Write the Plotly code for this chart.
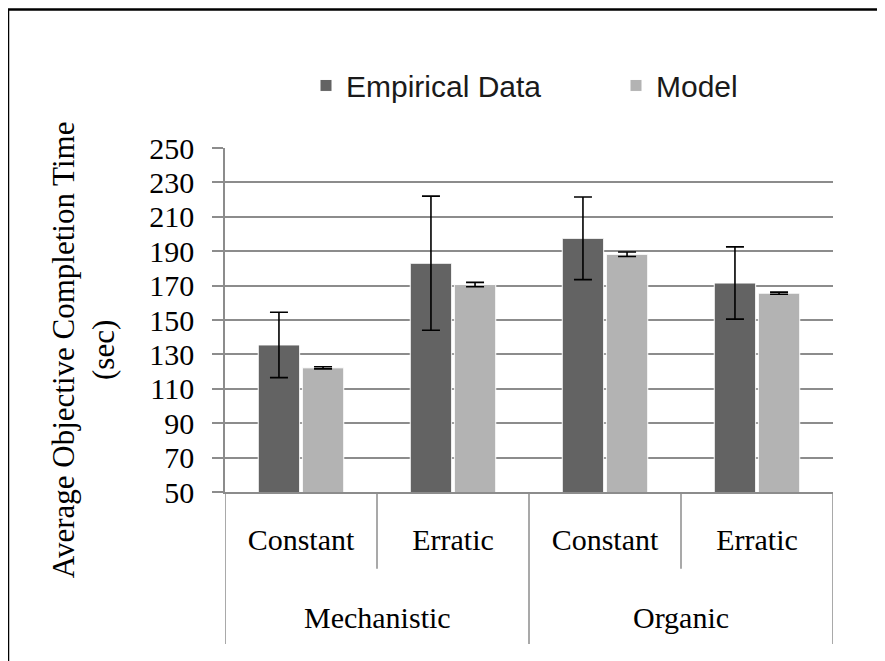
import plotly.graph_objects as go

groups = ["Mechanistic", "Mechanistic", "Organic", "Organic"]
conditions = ["Constant", "Erratic", "Constant", "Erratic"]
empirical = [135.5, 183.0, 197.5, 171.5]
empirical_err = [19.0, 39.0, 24.0, 21.0]
model = [122.2, 170.6, 188.2, 165.6]
model_err = [0.6, 1.3, 1.3, 0.6]
y_ticks = [50, 70, 90, 110, 130, 150, 170, 190, 210, 230, 250]

xpos = list(range(len(conditions)))
GRID = "#8c8c8c"
SERIF = "Liberation Serif, Times New Roman, serif"
SANS = "Liberation Sans, Arial, sans-serif"

OFF = 8  # page body margin
W, H = 885, 661
L = 225 - OFF
T = 148 - OFF
R = W - (833 - OFF)
B = H - (491.7 - OFF)
pw, ph = W - L - R, H - T - B

def sx(px):
    return (px - OFF - L) / pw

def sy(py):
    return (H - B - (py - OFF)) / ph

fig = go.Figure()
fig.add_trace(go.Bar(
    x=xpos, y=empirical, name="Empirical Data", legend="legend",
    marker=dict(color="#636363", line=dict(color="white", width=1)),
    error_y=dict(type="data", array=empirical_err, color="black", thickness=1.6, width=9),
))
fig.add_trace(go.Bar(
    x=xpos, y=model, name="Model", legend="legend2",
    marker=dict(color="#b3b3b3", line=dict(color="white", width=1)),
    error_y=dict(type="data", array=model_err, color="black", thickness=1.6, width=9),
))

shapes = []
for i in range(len(conditions) - 1):
    if groups[i] == groups[i + 1]:
        shapes.append(dict(type="line", xref="x", yref="paper", x0=i + 0.5, x1=i + 0.5,
                           y0=0, y1=sy(568.3), line=dict(color=GRID, width=1.5)))
bounds = [-0.5] + [i + 0.5 for i in range(len(groups) - 1) if groups[i] != groups[i + 1]] + [len(groups) - 0.5]
for b in bounds:
    shapes.append(dict(type="line", xref="x", yref="paper", x0=b, x1=b,
                       y0=0, y1=sy(643.5), line=dict(color=GRID, width=1.5)))
shapes.append(dict(type="rect", xref="paper", yref="paper",
                   x0=sx(8), x1=sx(920), y0=sy(700), y1=sy(9.5),
                   line=dict(color="black", width=2.5)))

annotations = []
seen = []
for g in groups:
    if g not in seen:
        seen.append(g)
for g in seen:
    idx = [i for i, gg in enumerate(groups) if gg == g]
    annotations.append(dict(text=g, x=sum(idx) / len(idx), xref="x", y=sy(617),
                            yref="paper", showarrow=False, xanchor="center", yanchor="middle",
                            font=dict(family=SERIF, size=30, color="black")))
annotations.append(dict(text="Average Objective Completion Time<br>(sec)", textangle=-90,
                        x=sx(83), xref="paper", y=sy(350), yref="paper",
                        showarrow=False, xanchor="center", yanchor="middle",
                        font=dict(family=SERIF, size=31, color="black")))

legend_common = dict(orientation="h", xanchor="left", yanchor="middle",
                     font=dict(family=SANS, size=30, color="#1a1a1a"),
                     bgcolor="rgba(0,0,0,0)", itemclick=False)

fig.update_layout(
    width=W, height=H,
    margin=dict(l=L, r=R, t=T, b=B, pad=0),
    paper_bgcolor="white", plot_bgcolor="white",
    barmode="group", bargap=0.42, bargroupgap=0.06,
    showlegend=True,
    legend=dict(x=sx(306), y=sy(85.5), **legend_common),
    legend2=dict(x=sx(616), y=sy(85.5), **legend_common),
    shapes=shapes,
    annotations=annotations,
)
fig.update_xaxes(
    range=[-0.5, len(conditions) - 0.5], tickvals=xpos, ticktext=conditions,
    showgrid=False, zeroline=False, showline=True, linecolor=GRID, linewidth=1.5,
    ticks="outside", ticklen=20, tickcolor="rgba(0,0,0,0)",
    tickfont=dict(family=SERIF, size=30, color="black"),
)
fig.update_yaxes(
    range=[50, 250], tickvals=y_ticks, showgrid=True, gridcolor=GRID, gridwidth=1.5,
    zeroline=False, showline=True, linecolor=GRID, linewidth=1.5,
    ticks="outside", ticklen=11, tickcolor=GRID, tickwidth=1.5, ticklabelstandoff=12,
    tickfont=dict(family=SERIF, size=30, color="black"),
)

fig.write_html("out.html")
